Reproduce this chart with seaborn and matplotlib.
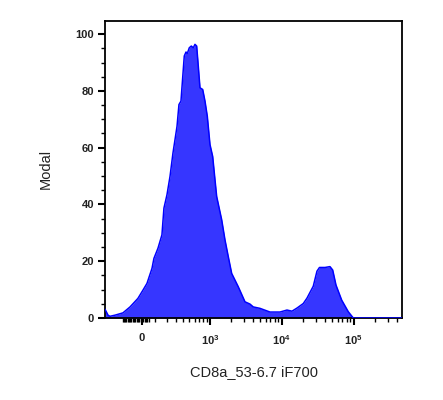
import numpy as np
import pandas as pd
import matplotlib
matplotlib.use("Agg")
import matplotlib.pyplot as plt
import seaborn as sns

# ---- data (fluorescence intensity, modal %) ----
intensity = [-340, -302, -279, -224, -149, -90, -30, 7, 37, 75,
             90, 123, 157, 175, 204, 235, 267, 315, 340, 367,
             386, 415, 442, 463, 497, 533, 571, 605, 641, 677,
             717, 785, 847, 914, 999, 1091, 1176, 1243, 1462, 1627,
             1810, 2019, 2496, 3095, 3633, 4038, 5003, 6893, 9490, 11868,
             13927, 16353, 19999, 22506, 27514, 30980, 33557, 40007, 46950, 51196,
             56900, 68271, 84318, 98946, 122600, 469700]
modal = [3.1, 1.0, 0.6, 1.0, 1.8, 3.9, 6.9, 9.8, 12.2, 17.5,
         21.0, 24.6, 29.3, 38.7, 43.4, 49.9, 58.1, 67.5, 75.2, 76.4,
         82.9, 92.3, 93.7, 93.2, 95.2, 95.8, 95.2, 96.4, 95.8, 88.7,
         81.1, 80.5, 76.4, 71.1, 61.1, 56.9, 48.7, 42.8, 34.6, 27.5,
         21.6, 15.7, 11.0, 5.7, 4.9, 3.9, 3.4, 2.1, 2.1, 2.8,
         2.4, 3.5, 5.1, 7.0, 11.2, 16.5, 17.8, 17.8, 18.1, 16.9,
         11.6, 6.3, 2.2, 0, 0, 0]

x_major = [0, 1000, 10000, 100000]
x_major_labels = ["0", "$10^3$", "$10^4$", "$10^5$"]
y_major = [0, 20, 40, 60, 80, 100]
x_label = "CD8a_53-6.7 iF700"
y_label = "Modal"

df = pd.DataFrame({"intensity": intensity, "modal": modal})

sns.set_style("ticks")
plt.rcParams["font.family"] = ["Liberation Sans", "DejaVu Sans"]
plt.rcParams["mathtext.fontset"] = "custom"
plt.rcParams["mathtext.rm"] = "Liberation Sans:bold"
plt.rcParams["mathtext.it"] = "Liberation Sans:bold"
plt.rcParams["mathtext.bf"] = "Liberation Sans:bold"
plt.rcParams["mathtext.default"] = "regular"

fig = plt.figure(figsize=(4.43, 4.0), dpi=100)
ax = fig.add_axes([105 / 443, 82 / 400, 297 / 443, 297.5 / 400])

ax.set_xscale("asinh", linear_width=230)
ax.fill_between(df["intensity"], 0, df["modal"], color="#3636FF", linewidth=0, zorder=2)
sns.lineplot(data=df, x="intensity", y="modal", ax=ax, color="#0000FF",
             linewidth=1.1, sort=False, estimator=None, zorder=3)

ax.set_xlim(-340, 469700)
ax.set_ylim(0, 104.8)

# ticks
ax.set_xticks(x_major)
ax.set_xticklabels(x_major_labels)
minor = [v for v in range(-150, 60, 10) if v != 0]
minor += list(range(100, 1000, 100)) + list(range(2000, 10000, 1000))
minor += list(range(20000, 100000, 10000)) + [200000, 300000, 400000]
ax.set_xticks(minor, minor=True)
ax.set_yticks(y_major)
ax.set_yticks(np.arange(0, 105, 5), minor=True)

ax.tick_params(axis="both", which="major", length=5, width=1.5, color="black",
               labelsize=8, pad=3)
ax.tick_params(axis="both", which="minor", length=3, width=1.0, color="black")
ax.tick_params(axis="x", which="major", pad=6)
for lab in ax.get_xticklabels() + ax.get_yticklabels():
    lab.set_fontweight("bold")
    lab.set_color("#222222")

for s in ax.spines.values():
    s.set_visible(True)
    s.set_linewidth(1.3)
    s.set_color("black")

ax.set_xlabel(x_label, fontsize=10.5, labelpad=13, color="#222222")
ax.set_ylabel(y_label, fontsize=10.5, labelpad=16, color="#222222")

fig.savefig("out.png", dpi=100)
